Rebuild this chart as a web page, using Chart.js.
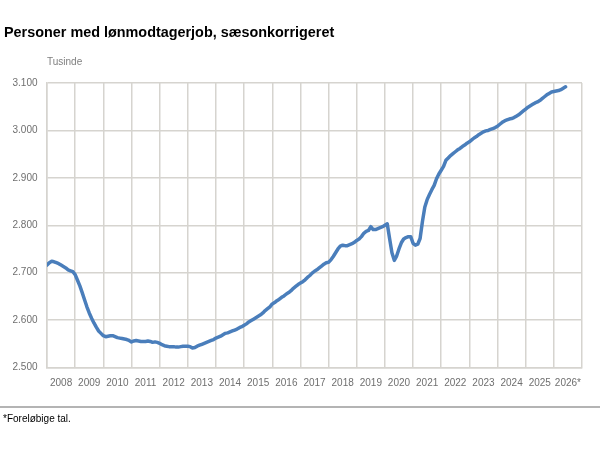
<!DOCTYPE html>
<html>
<head>
<meta charset="utf-8">
<script src="https://cdn.jsdelivr.net/npm/chart.js@4"></script>
<style>
    html, body { margin: 0; padding: 0; width: 600px; height: 450px; overflow: hidden; background: #fff; }
    body { position: relative; font-family: 'Liberation Sans', Arial, sans-serif; }
    #title { position: absolute; left: 4px; top: 25px; font-size: 14.4px; line-height: 1; font-weight: bold; color: #000; white-space: nowrap; }
    #unit { position: absolute; left: 47px; top: 57px; font-size: 10px; line-height: 1; color: #7f7f7f; }
    #rule { position: absolute; left: 0; top: 406px; width: 600px; height: 2px; background: #b4b4b4; }
    #note { position: absolute; left: 3px; top: 414px; font-size: 10px; line-height: 1; color: #000; }
    #wrap { position: absolute; left: 0; top: 0; width: 600px; height: 450px; }
</style>
</head>
<body>
<div id="wrap"><canvas id="chart"></canvas></div>
<div id="title">Personer med lønmodtagerjob, sæsonkorrigeret</div>
<div id="unit">Tusinde</div>
<div id="rule"></div>
<div id="note">*Foreløbige tal.</div>
<script>
// Year categories on the x axis (monthly data sits on a hidden axis behind them)
const years = ['2008', '2009', '2010', '2011', '2012', '2013', '2014', '2015', '2016',
    '2017', '2018', '2019', '2020', '2021', '2022', '2023', '2024', '2025', '2026*'];

// Employees, thousands, seasonally adjusted, monthly from Jan 2008
const employees = [
    2716, 2721, 2724, 2723, 2721, 2719, 2716, 2713, 2710, 2706, 2704, 2702, // 2008
    2696, 2684, 2672, 2658, 2643, 2628, 2615, 2604, 2594, 2585, 2577, 2572, // 2009
    2567, 2565, 2566, 2567, 2567, 2565, 2563, 2562, 2561, 2560, 2559, 2557, // 2010
    2554, 2556, 2557, 2556, 2555, 2555, 2555, 2556, 2555, 2553, 2554, 2553, // 2011
    2551, 2548, 2546, 2545, 2544, 2544, 2544, 2543, 2543, 2544, 2545, 2545, // 2012
    2545, 2544, 2541, 2542, 2545, 2547, 2549, 2551, 2553, 2555, 2557, 2559, // 2013
    2562, 2564, 2566, 2569, 2572, 2573, 2575, 2577, 2579, 2581, 2584, 2586, // 2014
    2589, 2592, 2596, 2599, 2602, 2605, 2608, 2611, 2615, 2620, 2624, 2628, // 2015
    2634, 2637, 2641, 2644, 2648, 2651, 2655, 2658, 2662, 2667, 2671, 2675, // 2016
    2678, 2681, 2685, 2690, 2694, 2699, 2703, 2706, 2710, 2714, 2718, 2721, // 2017
    2722, 2727, 2734, 2742, 2750, 2756, 2758, 2757, 2757, 2759, 2761, 2764, // 2018
    2768, 2771, 2776, 2783, 2787, 2789, 2797, 2791, 2791, 2793, 2795, 2797, // 2019
    2800, 2803, 2772, 2742, 2726, 2735, 2750, 2763, 2771, 2774, 2776, 2776, // 2020
    2762, 2758, 2760, 2772, 2808, 2838, 2854, 2865, 2875, 2884, 2898, 2908, // 2021
    2916, 2924, 2937, 2942, 2947, 2951, 2955, 2959, 2962, 2966, 2969, 2973, // 2022
    2976, 2980, 2984, 2987, 2991, 2994, 2997, 2999, 3000, 3002, 3004, 3006, // 2023
    3009, 3013, 3017, 3020, 3022, 3024, 3025, 3027, 3030, 3033, 3037, 3041, // 2024
    3045, 3049, 3052, 3055, 3058, 3060, 3063, 3067, 3071, 3075, 3078, 3081, // 2025
    3082, 3083, 3084, 3086, 3089, 3092                                      // 2026
];

const yMin = 2500;
const yMax = 3100;
const yStep = 100;

const gridColor = '#d6d4cf';
const tickColor = '#6f6f6f';

// Danish number format: 3.100
const fmt = v => String(v).replace(/\B(?=(\d{3})+(?!\d))/g, '.');

const points = employees.map((v, i) => ({ x: i, y: v }));

new Chart(document.getElementById('chart'), {
    type: 'line',
    data: {
        labels: years,
        datasets: [{
            data: points,
            xAxisID: 'months',
            borderColor: '#4a7ebb',
            borderWidth: 3.5,
            borderJoinStyle: 'round',
            borderCapStyle: 'round',
            pointRadius: 0,
            tension: 0
        }]
    },
    options: {
        responsive: true,
        maintainAspectRatio: false,
        animation: false,
        layout: {
            padding: { top: 83, right: 18, bottom: 52.5, left: 0 }
        },
        scales: {
            x: {
                type: 'category',
                offset: true,
                grid: { offset: true, color: gridColor, lineWidth: 1.5, drawTicks: false },
                border: { color: gridColor, width: 1.5 },
                ticks: {
                    color: tickColor,
                    padding: 10,
                    maxRotation: 0,
                    autoSkip: false,
                    font: { family: "'Liberation Sans', Arial, sans-serif", size: 10 }
                },
                afterFit: s => { s.height = 30; }
            },
            months: {
                type: 'linear',
                display: false,
                min: 0,
                max: years.length * 12
            },
            y: {
                min: yMin,
                max: yMax,
                grid: { color: gridColor, lineWidth: 1.5, drawTicks: false },
                border: { color: gridColor, width: 1.5 },
                ticks: {
                    stepSize: yStep,
                    color: tickColor,
                    padding: 9.5,
                    callback: v => fmt(v),
                    font: { family: "'Liberation Sans', Arial, sans-serif", size: 10 }
                },
                afterFit: s => { s.width = 47; }
            }
        },
        plugins: {
            legend: { display: false },
            tooltip: { enabled: false }
        }
    }
});
</script>
</body>
</html>
